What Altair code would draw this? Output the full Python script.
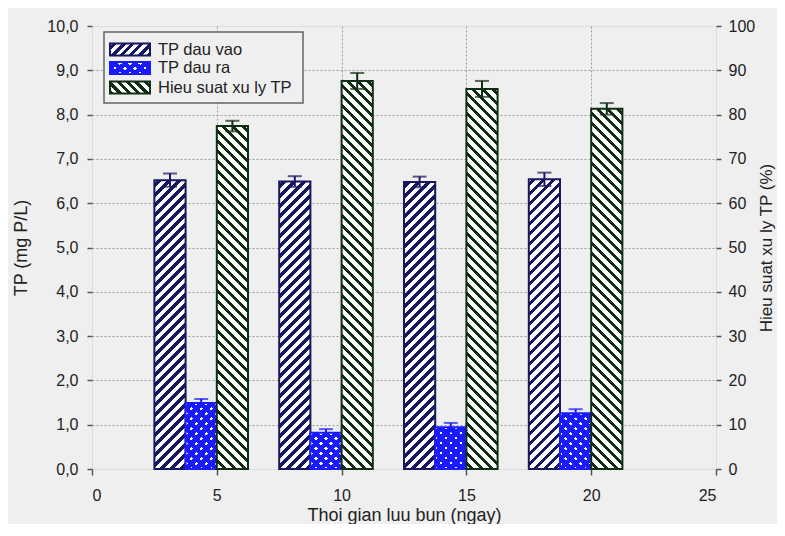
import altair as alt
import pandas as pd

# ---------------- data ----------------
days = [5, 10, 15, 20]
tp_in = [6.52, 6.49, 6.48, 6.54]
tp_in_err = [0.15, 0.12, 0.12, 0.15]
tp_out = [1.49, 0.82, 0.94, 1.26]
tp_out_err = [0.09, 0.08, 0.10, 0.09]
eff = [77.4, 87.6, 85.8, 81.3]
eff_err = [1.2, 1.8, 1.8, 1.3]
series = ["TP dau vao", "TP dau ra", "Hieu suat xu ly TP"]
x_ticks = [0, 5, 10, 15, 20, 25]
left_ticks = [0, 1, 2, 3, 4, 5, 6, 7, 8, 9, 10]
right_ticks = [0, 10, 20, 30, 40, 50, 60, 70, 80, 90, 100]

# ---------------- style ----------------
W, H = 624, 443
BAR = 1.25                       # bar width in x units
offsets = [-2.5, -1.25, 0.0]     # bar left edge relative to group value
NAVY = "#17175f"
BLUE = "#1a1aff"
GREEN = "#0f2d12"
BG = "#efefef"
FRAME = "#555555"
TXT = "#222222"
FONT = "Liberation Sans"
CLEAR = "rgba(0,0,0,0)"


def GS(o, c):
    return alt.GradientStop(offset=round(min(max(o, 0.0), 1.0), 5), color=c)


def hatch(w, h, direction, color, back, period=10.0, lw=4.0, phase=3.0):
    L = w + h
    D = w * w + h * h
    k = L / D
    if direction == "/":
        x1, y1, x2, y2 = 0.0, 0.0, w * k, h * k
    else:
        x1, y1, x2, y2 = 1.0, 0.0, 1.0 - w * k, h * k
    stops = [GS(0.0, back)]
    pos = phase
    while pos < L:
        a = pos / L
        b = min((pos + lw) / L, 1.0)
        stops += [GS(a, back), GS(a, color), GS(b, color), GS(b, back)]
        pos += period
    return alt.LinearGradient(gradient="linear", stops=stops,
                              x1=round(x1, 5), y1=round(y1, 5),
                              x2=round(x2, 5), y2=round(y2, 5))


grid_cond_x = {"condition": {"test": "datum.value == 0 || datum.value == 25", "value": 0}, "value": 1}
grid_cond_y = {"condition": {"test": "datum.value == 0 || datum.value == 10", "value": 0}, "value": 1}

axisX = alt.Axis(values=x_ticks, grid=True, gridDash=[2, 2], gridColor="#9a9a9a",
                 gridOpacity=grid_cond_x, domain=False, tickSize=6, tickColor=FRAME,
                 tickWidth=1.5, labelPadding=12, labelFontSize=16, labelColor=TXT,
                 titleFontSize=18, titleFontWeight="normal", titleColor=TXT,
                 titlePadding=3, labelFont=FONT, titleFont=FONT)
axisL = alt.Axis(values=left_ticks, orient="left",
                 labelExpr="replace(format(datum.value, '.1f'), '.', ',')",
                 grid=True, gridDash=[2, 2], gridColor="#9a9a9a", gridOpacity=grid_cond_y,
                 domain=False, tickSize=5, tickColor=FRAME, tickWidth=1.5,
                 labelPadding=9, labelFontSize=16, labelColor=TXT,
                 titleFontSize=18, titleFontWeight="normal", titleColor=TXT,
                 titlePadding=16, labelFont=FONT, titleFont=FONT)
axisR = alt.Axis(values=right_ticks, orient="right", grid=False, domain=False,
                 tickSize=5, tickColor=FRAME, tickWidth=1.5, labelPadding=7,
                 labelFontSize=16, labelColor=TXT, titleFontSize=17,
                 titleFontWeight="normal", titleColor=TXT, titleAngle=270,
                 titleBaseline="top", titlePadding=4, labelFont=FONT, titleFont=FONT)

xscale = alt.Scale(domain=[0, 25], nice=False, zero=False)
lscale = alt.Scale(domain=[0, 10], nice=False)
rscale = alt.Scale(domain=[0, 100], nice=False)
XT = "Thoi gian luu bun (ngay)"
LT = "TP (mg P/L)"
RT = "Hieu suat xu ly TP (%)"


def X(field):
    return alt.X(field, type="quantitative", scale=xscale, axis=axisX, title=XT)


def Y(field, right):
    if right:
        return alt.Y(field, type="quantitative", scale=rscale, axis=axisR, title=RT)
    return alt.Y(field, type="quantitative", scale=lscale, axis=axisL, title=LT)


def series_layers(vals, errs, si, color, right, kind):
    df = pd.DataFrame({"day": days, "v": vals, "e": errs})
    off = offsets[si]
    base = alt.Chart(df).transform_calculate(
        x0=f"datum.day + ({off})",
        x1=f"datum.day + ({off + BAR})",
        xc=f"datum.day + ({off + BAR / 2})",
        lo="datum.v - datum.e",
        hi="datum.v + datum.e",
        z="0",
    )
    wpx = BAR * W / 25.0
    top = 100.0 if right else 10.0
    bars = []
    for d, v in zip(days, vals):
        hpx = v / top * H
        sub = base.transform_filter(alt.datum.day == d)
        enc = dict(x=X("x0"), x2="x1:Q", y=Y("v", right), y2="z:Q")
        if kind == "cross":
            g1 = hatch(wpx, hpx, "/", color, "white", period=10, lw=6.5)
            g2 = hatch(wpx, hpx, "\\", color, CLEAR, period=10, lw=6.5)
            bars.append(sub.mark_rect(fill=g1, strokeWidth=0).encode(**enc))
            bars.append(sub.mark_rect(fill=g2, stroke=color, strokeWidth=2).encode(**enc))
        else:
            g = hatch(wpx, hpx, kind, color, "white", period=10, lw=4.5)
            bars.append(sub.mark_rect(fill=g, stroke=color, strokeWidth=2).encode(**enc))
    errs_l = [
        base.mark_rule(color=color, strokeWidth=2).encode(x=X("xc"), y=Y("lo", right), y2="hi:Q"),
        base.mark_tick(color=color, orient="horizontal", size=14, thickness=2).encode(x=X("xc"), y=Y("hi", right)),
        base.mark_tick(color=color, orient="horizontal", size=14, thickness=2).encode(x=X("xc"), y=Y("lo", right)),
    ]
    return bars, errs_l


b1, e1 = series_layers(tp_in, tp_in_err, 0, NAVY, False, "/")
b2, e2 = series_layers(tp_out, tp_out_err, 1, BLUE, False, "cross")
b3, e3 = series_layers(eff, eff_err, 2, GREEN, True, "\\")

left = alt.layer(*(b1 + b2 + e1 + e2))
right = alt.layer(*(b3 + e3))

# ---------------- legend (drawn inside the plot, top-left) ----------------
one = pd.DataFrame({"k": [0]})
leg = [alt.Chart(one).mark_rect(fill=BG, stroke="#666666", strokeWidth=1.5).encode(
    x=alt.value(12), x2=alt.value(211), y=alt.value(6), y2=alt.value(77))]
rows_y = [23.5, 42.0, 61.5]
sw_w, sw_h = 40.0, 12.0
sw_specs = [(NAVY, "/"), (BLUE, "cross"), (GREEN, "\\")]
for (col, kind), ry, name in zip(sw_specs, rows_y, series):
    enc = dict(x=alt.value(18), x2=alt.value(18 + sw_w), y=alt.value(ry - sw_h / 2), y2=alt.value(ry + sw_h / 2))
    if kind == "cross":
        leg.append(alt.Chart(one).mark_rect(fill=hatch(sw_w, sw_h, "/", col, "white", 10, 6.5)).encode(**enc))
        leg.append(alt.Chart(one).mark_rect(fill=hatch(sw_w, sw_h, "\\", col, CLEAR, 10, 6.5), stroke=col, strokeWidth=2).encode(**enc))
    else:
        leg.append(alt.Chart(one).mark_rect(fill=hatch(sw_w, sw_h, kind, col, "white", 9, 4.5), stroke=col, strokeWidth=2).encode(**enc))
    leg.append(alt.Chart(pd.DataFrame({"label": [name]})).mark_text(
        align="left", baseline="middle", fontSize=16.5, font=FONT, color=TXT).encode(
        x=alt.value(66), y=alt.value(ry), text="label:N"))
legend = alt.layer(*leg)

chart = alt.layer(left, right, legend).resolve_scale(y="independent").properties(
    width=W, height=H,
    padding={"left": 84, "top": 18, "right": 61, "bottom": 55},
    autosize=alt.AutoSizeParams(type="none"),
    background=BG,
).configure_view(stroke=FRAME, strokeWidth=2).configure(font=FONT)

chart.save("out.html", embed_options={"renderer": "svg", "actions": False})
